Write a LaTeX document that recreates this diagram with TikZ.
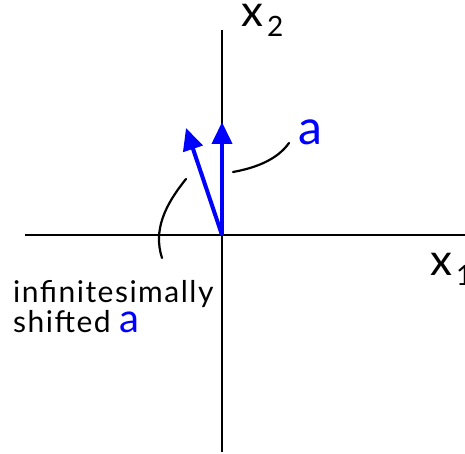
\documentclass[tikz,border=0pt]{standalone}
\usepackage{fontspec}
\setmainfont{Lato}
\usetikzlibrary{arrows.meta}
\tikzset{
  axis/.style={line width=2pt, black},
  vec/.style={line width=4pt, blue, -{Triangle[length=22pt,width=20pt]}},
  leader/.style={line width=2.2pt, black, line cap=round},
  axlabel/.style={font=\fontsize{44}{44}\selectfont, inner sep=0pt},
}
\newcommand{\subnum}[1]{\hspace{4pt}\raisebox{-10pt}{\fontsize{28}{28}\selectfont #1}}
\begin{document}
\begin{tikzpicture}[x=1pt,y=-1pt]
\useasboundingbox (0,0) rectangle (465,454);
% axes
\coordinate (vtop) at (222,30);
\coordinate (vbot) at (222,452);
\coordinate (hleft) at (25,235);
\coordinate (hright) at (465,235);
\coordinate (O) at (222,235);
\draw[axis] (vtop) -- (vbot);
\draw[axis] (hleft) -- (hright);
\node[axlabel, anchor=base west] (x2) at (241,27) {x\subnum{2}};
\node[axlabel, anchor=base west] (x1) at (430,275) {x\subnum{1}};
% vectors
\coordinate (atip) at (222,122);
\coordinate (stip) at (186,128);
\draw[vec] (O) -- (atip);
\draw[vec] (O) -- (stip);
% label a
\node[inner sep=0pt, blue, anchor=base west, font=\fontsize{48}{48}\selectfont] (alab) at (298,145) {a};
\coordinate (l1a) at (233,172);
\coordinate (l1b) at (289,143);
\draw[leader] (l1a) .. controls (255,168) and (277,160) .. (l1b);
% shifted label
\node[inner sep=0pt, anchor=base west, align=left,
      font=\fontsize{30}{30}\selectfont\addfontfeature{LetterSpace=5}] (slab) at (13,332)
  {infinitesimally\\shifted \textcolor{blue}{\smash{\fontsize{40}{30}\selectfont a}}};
\coordinate (l2a) at (186,179);
\coordinate (l2b) at (162,258);
\draw[leader] (l2a) .. controls (165,205) and (153,230) .. (l2b);
\end{tikzpicture}
\end{document}
